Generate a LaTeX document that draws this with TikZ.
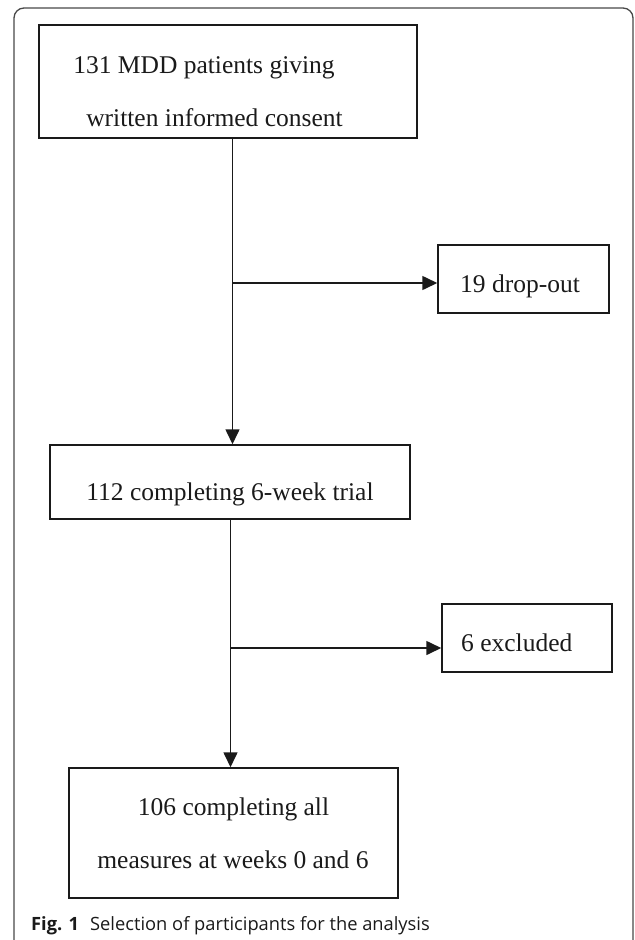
\documentclass[tikz,border=0pt]{standalone}
\usepackage{fontspec}
\setmainfont{Liberation Serif}
\newfontfamily\capfont{Open Sans}
\usetikzlibrary{arrows.meta}
\definecolor{ink}{HTML}{1A1A1A}
\tikzset{
  box/.style={draw=ink, line width=1.5bp, rectangle, inner sep=0pt},
  txt/.style={anchor=base, inner sep=0pt, font=\fontsize{25.5bp}{30bp}\selectfont, text=ink},
  flow/.style={draw=ink, line width=1.6bp, -{Triangle[length=15bp,width=14bp]}},
  frame/.style={draw=ink!80, line width=1.3bp, rounded corners=10bp}
}
\begin{document}
\begin{tikzpicture}[x=1bp,y=-1bp]
\useasboundingbox (0,0) rectangle (635,940);
\draw[frame] (14,950) -- (14,8) -- (633,8) -- (633,950);
% boxes
\node[box, minimum width=378bp, minimum height=113bp] (b1) at (228,81.5) {};
\node[box, minimum width=171bp, minimum height=68bp] (b2) at (523.5,279) {};
\node[box, minimum width=360bp, minimum height=74bp] (b3) at (230,482) {};
\node[box, minimum width=170bp, minimum height=68bp] (b4) at (527,638) {};
\node[box, minimum width=329bp, minimum height=130bp] (b5) at (233.5,833) {};
% texts
\node[txt] (t1a) at (204,73) {131 MDD patients giving};
\node[txt] (t1b) at (214.5,126) {written informed consent};
\node[txt, anchor=base west] (t2) at (460,292) {19 drop-out};
\node[txt] (t3) at (230,500) {112 completing 6-week trial};
\node[txt, anchor=base west] (t4) at (461,651) {6 excluded};
\node[txt] (t5a) at (233.5,815) {106 completing all};
\node[txt] (t5b) at (233,868) {measures at weeks 0 and 6};
% connectors
\coordinate (j1) at (232.5,283);
\coordinate (j2) at (230.5,648);
\draw[flow] (b1.south -| j1) -- (b3.north -| j1);
\draw[flow] (j1) -- (b2.west |- j1);
\draw[flow] (b3.south -| j2) -- (b5.north -| j2);
\draw[flow] (j2) -- (b4.west |- j2);
% caption
\node[anchor=base west, inner sep=0pt, font=\capfont\fontsize{18.3bp}{21bp}\selectfont, text=ink] (cap) at (31,930) {\textbf{Fig. 1}\hspace{11bp}Selection of participants for the analysis};
\end{tikzpicture}
\end{document}
